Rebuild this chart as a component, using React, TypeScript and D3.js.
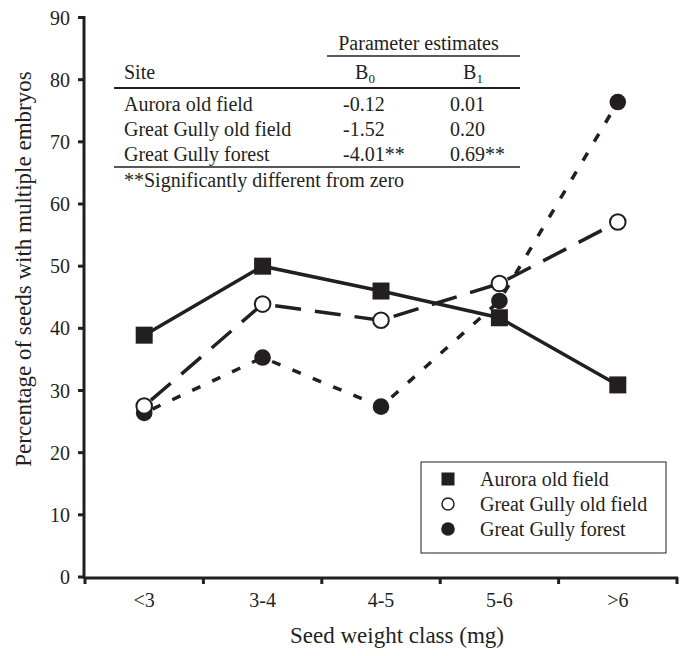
import React from "react";
import * as d3 from "d3";

const categories = ["<3", "3-4", "4-5", "5-6", ">6"];
const auroraOldField = [38.9, 50.0, 46.0, 41.7, 30.9];
const greatGullyOldField = [27.5, 43.9, 41.3, 47.2, 57.1];
const greatGullyForest = [26.4, 35.3, 27.4, 44.4, 76.4];
const yTicks = [0, 10, 20, 30, 40, 50, 60, 70, 80, 90];

const tableSites = ["Aurora old field", "Great Gully old field", "Great Gully forest"];
const tableB0 = ["-0.12", "-1.52", "-4.01**"];
const tableB1 = ["0.01", "0.20", "0.69**"];
const legendLabels = ["Aurora old field", "Great Gully old field", "Great Gully forest"];

const W = 681;
const H = 656;
const FONT = '"Liberation Serif", "Times New Roman", Times, "Nimbus Roman", "DejaVu Serif", serif';

export default function App() {
  const x = d3.scaleBand<string>().domain(categories).range([85, 677]).paddingInner(0).paddingOuter(0);
  const y = d3.scaleLinear().domain([0, 90]).range([577, 17.5]);
  const cx = (c: string) => (x(c) as number) + x.bandwidth() / 2;

  const line = d3
    .line<number>()
    .x((_, i) => cx(categories[i]))
    .y((d) => y(d));

  const xEdges = d3.range(categories.length + 1).map((i) => 85 + i * x.step());

  const sq = 17;
  const r = 8.3;
  const txt: React.CSSProperties = { fontFamily: FONT };

  return (
    <svg
      width={W}
      height={H}
      style={{ position: "absolute", left: 0, top: 0, background: "#fff", fontFamily: FONT }}
    >
      <rect x={0} y={0} width={W} height={H} fill="#fff" />

      {/* table */}
      <g fontSize={20} fill="#231f20" style={txt}>
        <text x={418.5} y={50} textAnchor="middle">Parameter estimates</text>
        <line x1={327} x2={520} y1={56} y2={56} stroke="#231f20" strokeWidth={1.5} />
        <text x={124} y={79}>Site</text>
        <text x={365} y={79} textAnchor="middle">
          B<tspan fontSize={13} dy={4}>0</tspan>
        </text>
        <text x={473} y={79} textAnchor="middle">
          B<tspan fontSize={13} dy={4}>1</tspan>
        </text>
        <line x1={114} x2={520} y1={88} y2={88} stroke="#231f20" strokeWidth={2} />
        {tableSites.map((s, i) => (
          <g key={s}>
            <text x={124} y={111 + i * 25}>{s}</text>
            <text x={343} y={111 + i * 25}>{tableB0[i]}</text>
            <text x={450} y={111 + i * 25}>{tableB1[i]}</text>
          </g>
        ))}
        <line x1={114} x2={520} y1={167} y2={167} stroke="#231f20" strokeWidth={1.5} />
        <text x={124} y={187}>**Significantly different from zero</text>
      </g>

      {/* series lines */}
      <path d={line(auroraOldField) || ""} fill="none" stroke="#231f20" strokeWidth={3.5} />
      <path
        d={line(greatGullyOldField) || ""}
        fill="none"
        stroke="#231f20"
        strokeWidth={3.5}
        strokeDasharray="26,14"
        strokeDashoffset={-9}
      />
      <path
        d={line(greatGullyForest) || ""}
        fill="none"
        stroke="#231f20"
        strokeWidth={3.5}
        strokeDasharray="9,13"
        strokeDashoffset={-9}
      />

      {/* markers */}
      {greatGullyForest.map((v, i) => (
        <circle key={"f" + i} cx={cx(categories[i])} cy={y(v)} r={r} fill="#231f20" />
      ))}
      {greatGullyOldField.map((v, i) => (
        <circle key={"o" + i} cx={cx(categories[i])} cy={y(v)} r={r - 0.5} fill="#fff" stroke="#231f20" strokeWidth={2} />
      ))}
      {auroraOldField.map((v, i) => (
        <rect key={"a" + i} x={cx(categories[i]) - sq / 2} y={y(v) - sq / 2} width={sq} height={sq} fill="#231f20" />
      ))}

      {/* axes */}
      <g stroke="#231f20" strokeWidth={3}>
        <line x1={84} x2={84} y1={y(90) - 1.5} y2={y(0) + 1.5} />
        <line x1={84} x2={678} y1={y(0) + 1} y2={y(0) + 1} />
        {yTicks.map((t) => (
          <line key={"yt" + t} x1={78} x2={84} y1={y(t)} y2={y(t)} />
        ))}
        {xEdges.map((e, i) => (
          <line key={"xt" + i} x1={e} x2={e} y1={y(0)} y2={y(0) + 7} />
        ))}
      </g>
      <g fontSize={20} fill="#231f20" style={txt}>
        {yTicks.map((t) => (
          <text key={"yl" + t} x={70} y={y(t)} dy="0.35em" textAnchor="end">
            {t}
          </text>
        ))}
        {categories.map((c) => (
          <text key={"xl" + c} x={cx(c)} y={607} textAnchor="middle">
            {c}
          </text>
        ))}
      </g>
      <text x={397} y={643} fontSize={23} textAnchor="middle" fill="#231f20" style={txt}>
        Seed weight class (mg)
      </text>
      <text
        transform={`translate(31,269) rotate(-90)`}
        fontSize={23}
        textAnchor="middle"
        fill="#231f20"
        style={txt}
      >
        Percentage of seeds with multiple embryos
      </text>

      {/* legend */}
      <g>
        <rect x={421} y={462} width={245} height={91} fill="#fff" stroke="#231f20" strokeWidth={1} />
        <rect x={448 - 6.5} y={479 - 6.5} width={13} height={13} fill="#231f20" />
        <circle cx={448} cy={504} r={6} fill="#fff" stroke="#231f20" strokeWidth={1.5} />
        <circle cx={448} cy={529} r={6.8} fill="#231f20" />
        {legendLabels.map((l, i) => (
          <text key={l} x={480} y={486 + i * 25} fontSize={20} fill="#231f20" style={txt}>
            {l}
          </text>
        ))}
      </g>
    </svg>
  );
}
